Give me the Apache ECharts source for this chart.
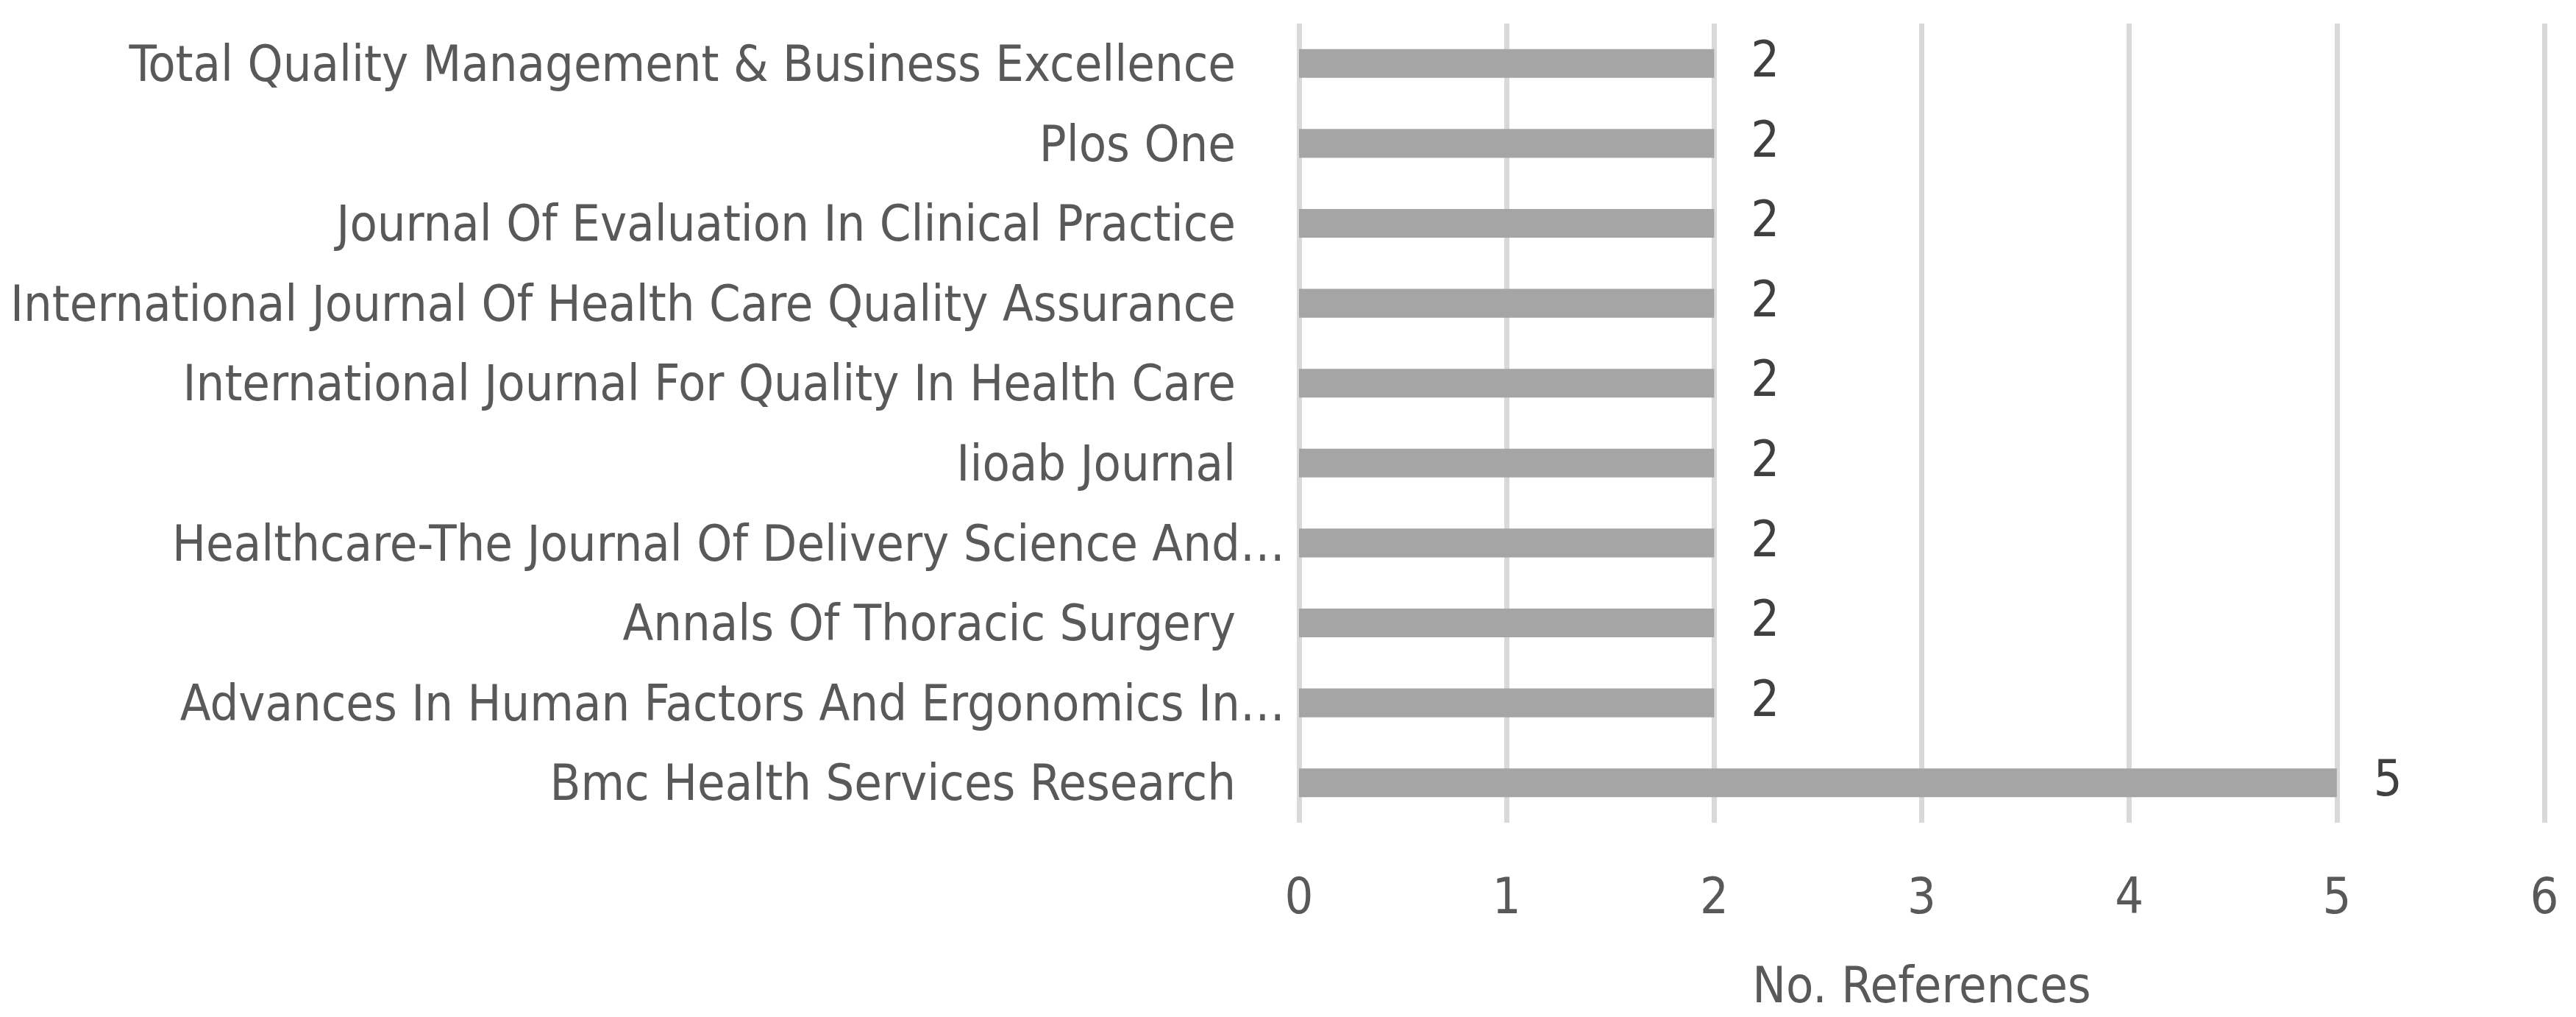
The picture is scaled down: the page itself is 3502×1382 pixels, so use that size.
<!DOCTYPE html>
<html>
<head>
<meta charset="utf-8">
<style>
html,body{margin:0;padding:0;background:#fff;}
#c{width:3502px;height:1382px;}
</style>
<script src="https://cdn.jsdelivr.net/npm/echarts@6/dist/echarts.min.js"></script>
</head>
<body>
<div id="c"></div>
<script>
const categories = [
  "Bmc Health Services Research",
  "Advances In Human Factors And Ergonomics In…",
  "Annals Of Thoracic Surgery",
  "Healthcare-The Journal Of Delivery Science And…",
  "Iioab Journal",
  "International Journal For Quality In Health Care",
  "International Journal Of Health Care Quality Assurance",
  "Journal Of Evaluation In Clinical Practice",
  "Plos One",
  "Total Quality Management & Business Excellence"
];
const references = [5, 2, 2, 2, 2, 2, 2, 2, 2, 2];
const xTicks = [0, 1, 2, 3, 4, 5, 6];
const xTitle = "No. References";

const FONT = "'DejaVu Sans Condensed', 'Noto Sans', sans-serif";
const FS = 68;
const chart = echarts.init(document.getElementById('c'), null, {renderer: 'canvas'});
chart.setOption({
  animation: false,
  backgroundColor: '#ffffff',
  grid: {left: 1766, right: 43, top: 32, bottom: 264, containLabel: false, outerBoundsMode: 'none'},
  xAxis: {
    type: 'value',
    min: xTicks[0],
    max: xTicks[xTicks.length - 1],
    interval: 1,
    name: xTitle,
    nameLocation: 'middle',
    nameGap: 192,
    nameTextStyle: {fontFamily: FONT, fontSize: FS, color: '#595959'},
    axisLine: {show: false},
    axisTick: {show: false},
    axisLabel: {fontFamily: FONT, fontSize: FS, color: '#595959', margin: 71},
    splitLine: {show: true, lineStyle: {color: '#d9d9d9', width: 7}}
  },
  yAxis: {
    type: 'category',
    data: categories,
    axisLine: {show: false},
    axisTick: {show: false},
    axisLabel: {
      fontFamily: FONT, fontSize: FS, color: '#595959', margin: 19,
      formatter: function (v) {
        return v.endsWith('…') ? '{t|' + v + '}' : '{n|' + v + '}';
      },
      rich: {
        n: {fontFamily: FONT, fontSize: FS, color: '#595959', padding: [12, 67, 0, 0]},
        t: {fontFamily: FONT, fontSize: FS, color: '#595959', padding: [12, 0, 0, 0]}
      }
    }
  },
  series: [{
    type: 'bar',
    data: references,
    barWidth: '36%',
    itemStyle: {color: '#a5a5a5'},
    label: {
      show: true, position: 'right', distance: 50,
      fontFamily: FONT, fontSize: FS, color: '#404040',
      padding: [6, 0, 0, 0]
    }
  }]
});
</script>
</body>
</html>
